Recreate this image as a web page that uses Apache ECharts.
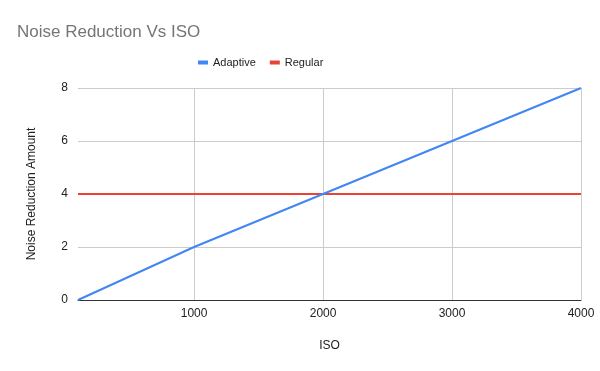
<!DOCTYPE html>
<html>
<head>
<meta charset="utf-8">
<script src="https://cdn.jsdelivr.net/npm/echarts@6/dist/echarts.min.js"></script>
<style>html,body{margin:0;padding:0;background:#fff}#c{width:600px;height:371px}</style>
</head>
<body>
<div id="c"></div>
<script>
var isoValues = [100, 1000, 2000, 3000, 4000];
var adaptive = [0, 2, 4, 6, 8];
var regular = [4, 4, 4, 4, 4];
var xTicks = [1000, 2000, 3000, 4000];
var yTicks = [0, 2, 4, 6, 8];

var FONT = 'Liberation Sans, Arial, sans-serif';
var chart = echarts.init(document.getElementById('c'));
function pairs(xs, ys){ return xs.map(function(x,i){ return [x, ys[i]]; }); }
chart.setOption({
  animation: false,
  title: {
    text: 'Noise Reduction Vs ISO', left: 12, top: 19,
    textStyle: { fontFamily: FONT, fontSize: 17, fontWeight: 'normal', color: '#757575' }
  },
  legend: {
    left: 193, top: 52, itemWidth: 10, itemHeight: 4, itemGap: 14,
    icon: 'rect',
    textStyle: { fontFamily: FONT, fontSize: 11, color: '#222' },
    data: ['Adaptive', 'Regular']
  },
  grid: { left: 78, right: 19, top: 88, bottom: 71, containLabel: false },
  xAxis: {
    type: 'value', min: 100, max: 4000,
    name: 'ISO', nameLocation: 'middle', nameGap: 40,
    nameTextStyle: { fontFamily: FONT, fontSize: 12, color: '#222' },
    axisLine: { show: true, lineStyle: { color: '#333', width: 1 } },
    axisTick: { show: false, customValues: xTicks },
    axisLabel: { customValues: xTicks, formatter: function(v){ return String(v); },
      fontFamily: FONT, fontSize: 12, color: '#222', margin: 8 },
    splitLine: { show: true, lineStyle: { color: '#ccc' } }
  },
  yAxis: {
    type: 'value', min: 0, max: 8, interval: 2,
    name: 'Noise Reduction Amount', nameLocation: 'middle', nameGap: 40, nameRotate: 90,
    nameTextStyle: { fontFamily: FONT, fontSize: 12, color: '#222' },
    axisLine: { show: false },
    axisTick: { show: false },
    axisLabel: { fontFamily: FONT, fontSize: 12, color: '#222', margin: 10 },
    splitLine: { show: true, lineStyle: { color: '#ccc' } }
  },
  series: [
    { name: 'Adaptive', type: 'line', data: pairs(isoValues, adaptive), showSymbol: false, symbol: 'none',
      lineStyle: { color: '#4285f4', width: 2 }, itemStyle: { color: '#4285f4' }, z: 3 },
    { name: 'Regular', type: 'line', data: pairs(isoValues, regular), showSymbol: false, symbol: 'none',
      lineStyle: { color: '#ea4335', width: 2 }, itemStyle: { color: '#ea4335' }, z: 2 }
  ]
});
</script>
</body>
</html>
